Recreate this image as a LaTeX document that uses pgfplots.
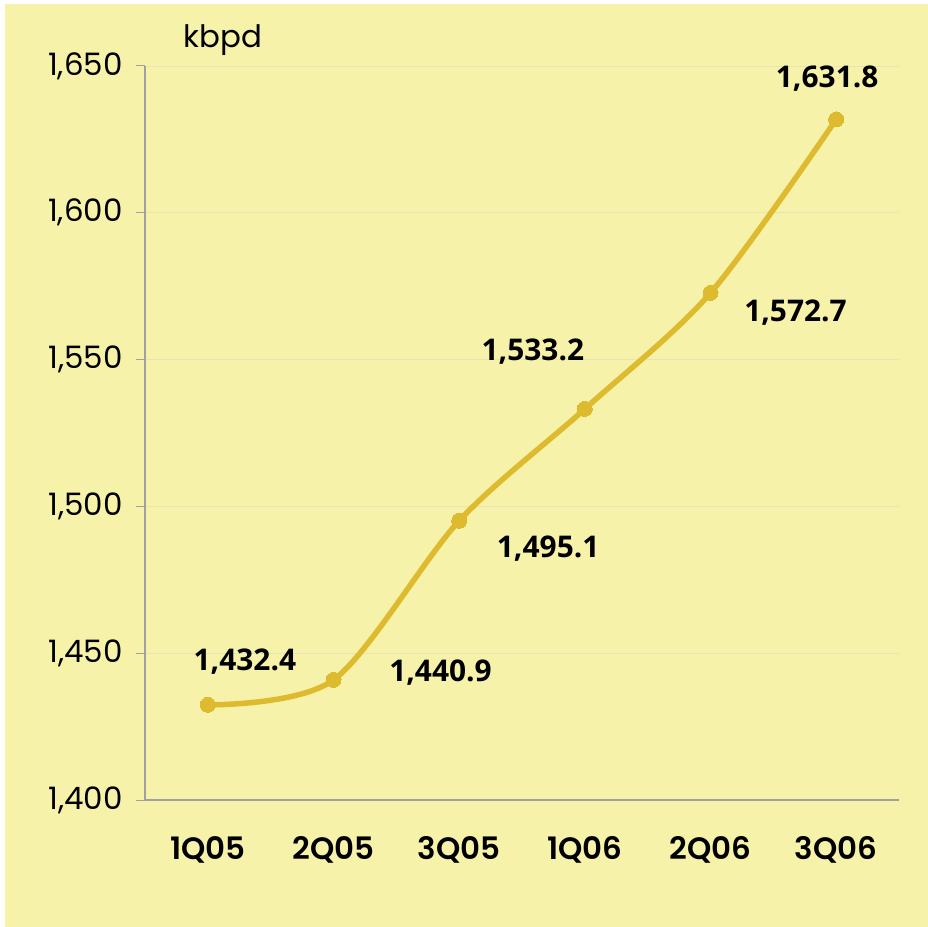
\documentclass[border=0pt]{standalone}
\usepackage{pgfplots}
\pgfplotsset{compat=1.18}
\usepackage{fontspec}
\setmainfont{Poppins}
\newfontfamily\lab{Open Sans}
\newfontfamily\semib{Poppins SemiBold}
\definecolor{bgy}{RGB}{247,242,170}
\definecolor{lineg}{RGB}{222,186,46}
\definecolor{axg}{RGB}{160,160,160}
\definecolor{gridg}{RGB}{232,228,180}
\begin{document}
\begin{tikzpicture}[x=1bp,y=1bp]
\useasboundingbox (0,0) rectangle (928,927);
\fill[white] (0,0) rectangle (928,927);
\fill[bgy] (5,0) rectangle (928,923);
\begin{axis}[
  at={(145bp,127bp)}, anchor=south west,
  scale only axis, width=754bp, height=734bp,
  xmin=-0.5, xmax=5.5, ymin=1400, ymax=1650,
  axis lines*=left,
  axis line style={draw=axg, line width=1.2pt},
  clip=false,
  xtick={0,1,2,3,4,5},
  xticklabels={1Q05,2Q05,3Q05,1Q06,2Q06,3Q06},
  x tick label style={font=\semib\fontsize{31}{31}\selectfont, anchor=north, yshift=-24bp},
  major x tick style={draw=none},
  extra x ticks={-0.5,0.5,1.5,2.5,3.5,4.5,5.5},
  extra x tick labels={},
  extra x tick style={tick align=outside, major tick length=10bp, tick style={draw=axg, line width=1pt}},
  ytick={1400,1450,1500,1550,1600,1650},
  yticklabels={{1,400},{1,450},{1,500},{1,550},{1,600},{1,650}},
  y tick label style={font=\fontsize{31}{31}\selectfont, anchor=east, xshift=-10bp},
  ytick style={draw=axg, line width=1pt},
  tick align=outside, major tick length=9bp,
  ymajorgrids, grid style={draw=gridg, line width=0.8pt},
  /pgf/number format/assume math mode=true,
]
\addplot[color=lineg, line width=5.5bp, smooth, tension=0.5, mark=*, mark size=7.5bp, mark options={fill=lineg, draw=lineg, line width=0pt}]
  coordinates {(0,1432.4) (1,1440.9) (2,1495.1) (3,1533.2) (4,1572.7) (5,1631.8)};
\begin{scope}[every node/.style={font=\lab\bfseries\fontsize{30}{30}\selectfont, text=black}]
\node[xshift=37bp, yshift=43bp] at (axis cs:0,1432.4) {1,432.4};
\node[xshift=107bp, yshift=7bp] at (axis cs:1,1440.9) {1,440.9};
\node[xshift=89bp, yshift=-28bp] at (axis cs:2,1495.1) {1,495.1};
\node[xshift=-52bp, yshift=57bp] at (axis cs:3,1533.2) {1,533.2};
\node[xshift=85bp, yshift=-20bp] at (axis cs:4,1572.7) {1,572.7};
\node[xshift=-9bp, yshift=41bp] at (axis cs:5,1631.8) {1,631.8};
\end{scope}
\end{axis}
\node[font=\fontsize{31}{31}\selectfont] at (223,887) {kbpd};
\end{tikzpicture}
\end{document}
